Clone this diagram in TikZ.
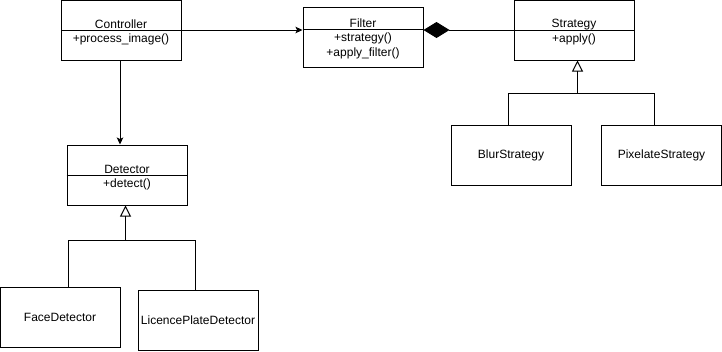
\documentclass[tikz,border=0pt]{standalone}
\usepackage{fontspec}
\setmainfont{Liberation Sans}
\usetikzlibrary{arrows.meta}

\begin{document}
\begin{tikzpicture}[x=1pt,y=-1pt,line width=1pt,
		box/.style={draw,rectangle,minimum width=120pt,minimum height=60pt,inner sep=0pt,font=\fontsize{12}{14}\selectfont},
		txt/.style={inner sep=0pt,anchor=base,font=\fontsize{12}{14}\selectfont},
		assoc/.style={-{Stealth[length=7pt,width=6.5pt,inset=1.5pt]}},
		compo/.style={-{Diamond[length=26pt,width=16pt]}},
		inherit/.style={-{Triangle[open,length=11pt,width=11pt,line width=1pt]}}]
	\useasboundingbox (0,0) rectangle (722,351);
	% classes with a name part and an operations part
	\node[box] (ctrl) at (121.5,30.5) {};
	\draw (ctrl.west |- 0,30.5) -- (ctrl.east |- 0,30.5);
	\node[txt] (ctrl-name) at (121,28) {Controller};
	\node[txt] (ctrl-ops) at (121,42) {+process\_image()};
	
	\node[box] (filter) at (363,37) {};
	\draw (filter.west |- 0,29) -- (filter.east |- 0,29);
	\node[txt] (filter-name) at (363,27) {Filter};
	\node[txt] (filter-op1) at (363,41) {+strategy()};
	\node[txt] (filter-op2) at (363,56) {+apply\_filter()};
	
	\node[box] (strat) at (574,30) {};
	\draw (strat.west |- 0,30) -- (strat.east |- 0,30);
	\node[txt] (strat-name) at (574,27.5) {Strategy};
	\node[txt] (strat-ops) at (574,42) {+apply()};
	
	\node[box] (det) at (127,175) {};
	\draw (det.west |- 0,175) -- (det.east |- 0,175);
	\node[txt] (det-name) at (127,173) {Detector};
	\node[txt] (det-ops) at (127,187) {+detect()};
	
	% concrete classes
	\node[box] (blur) at (511,155) {BlurStrategy};
	\node[box] (pixel) at (661.5,155) {PixelateStrategy};
	\node[box] (face) at (60,317) {FaceDetector};
	\node[box] (plate) at (198,320) {LicencePlateDetector};
	
	% associations
	\draw[assoc] (ctrl.east |- 0,30) -- (filter.west |- 0,30);
	\draw[assoc] (ctrl.south -| 120,0) -- (det.north -| 120,0);
	\draw[compo] (strat.west) -- (strat.west -| filter.east);
	
	% inheritance
	\coordinate (strat-bus) at (577.5,93);
	\draw[inherit] ([xshift=-3pt]blur.north) |- (strat-bus) -- (strat-bus |- strat.south);
	\draw ([xshift=-7.5pt]pixel.north) |- (strat-bus);
	\coordinate (det-bus) at (125.5,240);
	\draw[inherit] ([xshift=8pt]face.north) |- (det-bus) -- (det-bus |- det.south);
	\draw ([xshift=-3pt]plate.north) |- (det-bus);
\end{tikzpicture}
\end{document}
